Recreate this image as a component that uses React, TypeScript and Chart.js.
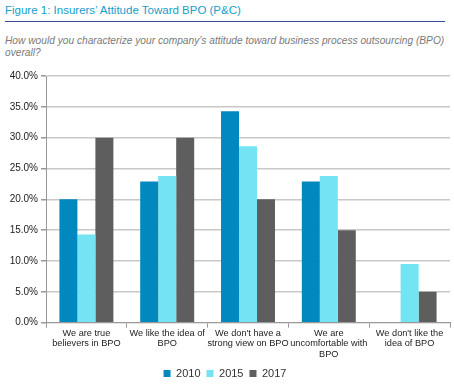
import React, { useEffect, useRef } from "react";
import { Chart, registerables } from "chart.js";

Chart.register(...registerables);

const categories: string[][] = [
  ["We are true", "believers in BPO"],
  ["We like the idea of", "BPO"],
  ["We don't have a", "strong view on BPO"],
  ["We are", "uncomfortable with", "BPO"],
  ["We don't like the", "idea of BPO"],
];

const values2010 = [20.0, 22.9, 34.3, 22.9, 0];
const values2015 = [14.3, 23.8, 28.6, 23.8, 9.5];
const values2017 = [30.0, 30.0, 20.0, 15.0, 5.0];

const seriesNames = ["2010", "2015", "2017"];
const seriesColors = ["#0088BF", "#74E3F4", "#5E5E5E"];

const titleText = "Figure 1: Insurers\u2019 Attitude Toward BPO (P&C)";
const subtitleText =
  "How would you characterize your company\u2019s attitude toward business process outsourcing (BPO) overall?";

const FONT = "'Liberation Sans', Arial, Helvetica, sans-serif";

export default function App() {
  const canvasRef = useRef<HTMLCanvasElement | null>(null);

  useEffect(() => {
    const canvas = canvasRef.current;
    if (!canvas) return;
    const chart = new Chart(canvas, {
      type: "bar",
      data: {
        labels: categories,
        datasets: [values2010, values2015, values2017].map((vals, i) => ({
          label: seriesNames[i],
          data: vals,
          backgroundColor: seriesColors[i],
          borderWidth: 0,
          categoryPercentage: 0.668,
          barPercentage: 1.0,
        })),
      },
      options: {
        animation: false,
        responsive: false,
        maintainAspectRatio: false,
        layout: { padding: { top: 14, right: 4, bottom: 0, left: 0 } },
        plugins: {
          legend: {
            position: "bottom",
            labels: {
              boxWidth: 7,
              boxHeight: 7,
              padding: 6,
              color: "#333333",
              font: { family: FONT, size: 11 },
            },
          },
          tooltip: { enabled: false },
        },
        scales: {
          x: {
            grid: {
              drawOnChartArea: false,
              drawTicks: true,
              tickLength: 5,
              tickColor: "#999999",
              offset: true,
            },
            border: { color: "#999999", width: 1 },
            ticks: {
              color: "#222222",
              padding: 1,
              maxRotation: 0,
              autoSkip: false,
              font: { family: FONT, size: 9.2, lineHeight: 1.1 },
            },
            afterFit: (scale: any) => {
              scale.height = 39.3;
            },
          },
          y: {
            min: 0,
            max: 40,
            grid: {
              color: "#C8C8C8",
              lineWidth: 1.5,
              tickLength: 5,
              tickColor: "#999999",
            },
            border: { color: "#999999", width: 1 },
            ticks: {
              stepSize: 5,
              padding: 3,
              color: "#222222",
              font: { family: FONT, size: 10 },
              callback: (v: any) => Number(v).toFixed(1) + "%",
            },
            afterFit: (scale: any) => {
              scale.width = 46;
            },
          },
        },
      },
    });
    return () => chart.destroy();
  }, []);

  return (
    <div
      style={{
        position: "absolute",
        left: 0,
        top: 0,
        width: 454,
        height: 384,
        background: "#ffffff",
        fontFamily: FONT,
        overflow: "hidden",
      }}
    >
      <div
        style={{
          position: "absolute",
          left: 5,
          top: 3,
          width: 440,
          fontSize: 11.5,
          lineHeight: "14px",
          color: "#14A0CC",
          paddingBottom: 4,
          borderBottom: "1.5px solid #3D4B9B",
          whiteSpace: "nowrap",
        }}
      >
        {titleText}
      </div>
      <div
        style={{
          position: "absolute",
          left: 5,
          top: 35,
          width: 445,
          fontSize: 10.2,
          lineHeight: "11.5px",
          fontStyle: "italic",
          color: "#7A7A7A",
        }}
      >
        {subtitleText}
      </div>
      <canvas
        ref={canvasRef}
        width={454}
        height={327}
        style={{ position: "absolute", left: 0, top: 62, width: 454, height: 327 }}
      />
    </div>
  );
}
